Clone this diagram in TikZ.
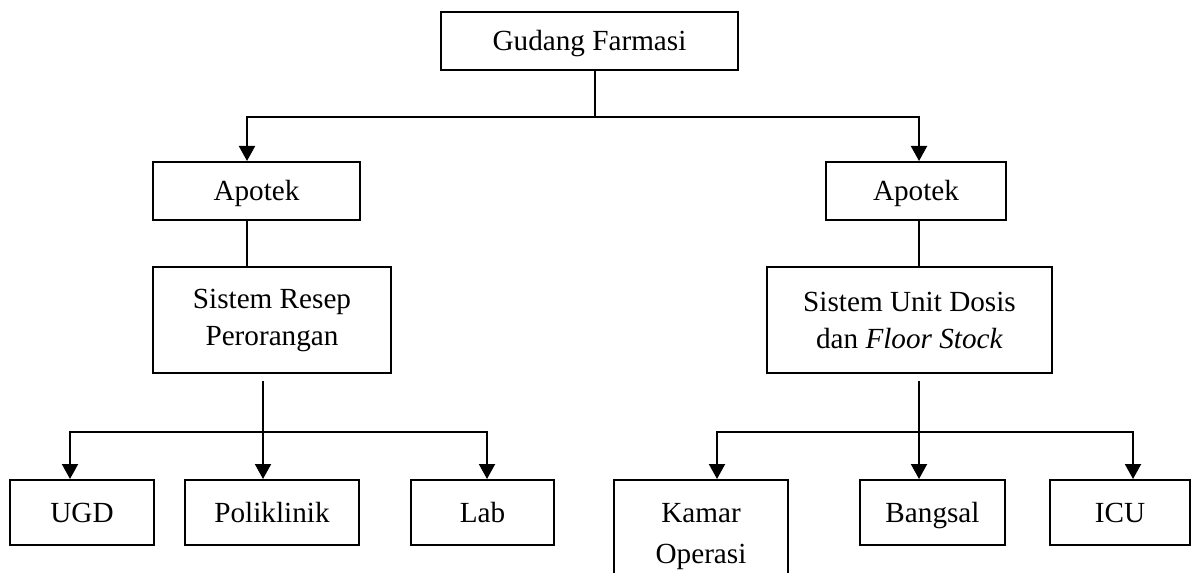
\documentclass[tikz,border=0pt]{standalone}
\usepackage{fontspec}
\setmainfont{Liberation Serif}
\usetikzlibrary{arrows.meta}

\begin{document}
\begin{tikzpicture}[
    x=0.5pt, y=-0.5pt,
    font=\fontsize{14.6}{18.5}\selectfont,
    box/.style={draw, line width=1pt, inner sep=0pt, align=center, minimum height=29pt},
    single/.style={box, text height=12.9pt, text depth=3.2pt},
    link/.style={line width=1pt},
    arrow/.style={link, -{Triangle[length=7.5pt, width=8pt]}}
]
\useasboundingbox (0,0) rectangle (1192,572);

\node[single, minimum width=148.5pt] (gudang) at (589.5,41) {Gudang Farmasi};
\node[single, minimum width=103.5pt] (apotekL) at (256.5,191) {Apotek};
\node[single, minimum width=90pt] (apotekR) at (916,191) {Apotek};
\node[box, minimum width=119pt, minimum height=53pt] (resep) at (272,320) {Sistem Resep\\Perorangan};
\node[box, minimum width=142.5pt, minimum height=53pt] (sud) at (909.5,320) {Sistem Unit Dosis\\dan \textit{Floor Stock}};
\node[single, minimum width=72pt, minimum height=32.5pt] (ugd) at (82,512.5) {UGD};
\node[single, minimum width=87pt, minimum height=32.5pt] (poli) at (272,512.5) {Poliklinik};
\node[single, minimum width=71.5pt, minimum height=32.5pt] (lab) at (482.5,512.5) {Lab};
\node[box, minimum width=87pt, minimum height=57pt, font=\fontsize{14.6}{20.5}\selectfont] (kamar) at (701,537) {Kamar\\Operasi};
\node[single, minimum width=72.5pt, minimum height=32.5pt] (bangsal) at (932.5,512.5) {Bangsal};
\node[single, minimum width=70pt, minimum height=32.5pt] (icu) at (1120,512.5) {ICU};

% junctions
\coordinate (jtop) at (595,117);
\coordinate (jres) at (263,432);
\coordinate (jsud) at (919,432);

\draw[link] (gudang.south -| jtop) -- (jtop);
\draw[arrow] (jtop) -| (247,0 |- apotekL.north);
\draw[arrow] (jtop) -| (919,0 |- apotekR.north);
\draw[link] (247,0 |- apotekL.south) -- (247,0 |- resep.north);
\draw[link] (919,0 |- apotekR.south) -- (919,0 |- sud.north);
\draw[link, shorten <=3.5pt] (resep.south -| jres) -- (jres);
\draw[link, shorten <=3.5pt] (sud.south -| jsud) -- (jsud);

\foreach \n/\x in {ugd/70, poli/263, lab/487}
  \draw[arrow] (jres) -| (\x,0 |- \n.north);
\foreach \n/\x in {kamar/717, bangsal/919, icu/1133}
  \draw[arrow] (jsud) -| (\x,0 |- \n.north);
\end{tikzpicture}
\end{document}
